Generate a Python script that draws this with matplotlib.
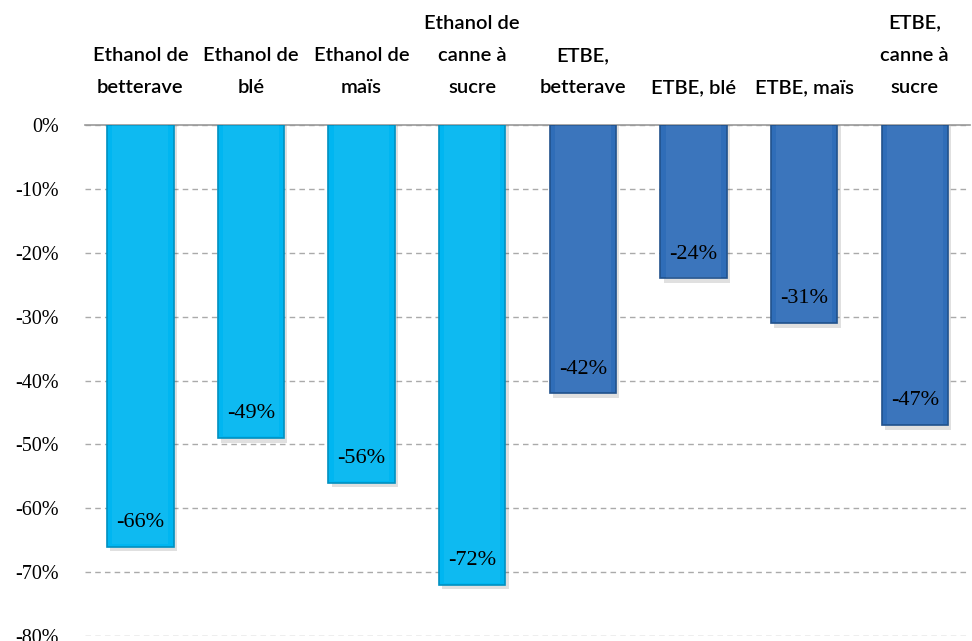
import matplotlib
matplotlib.use("Agg")
import matplotlib.pyplot as plt
from matplotlib.patches import Rectangle
import numpy as np

categories = ["Ethanol de\nbetterave", "Ethanol de\nblé", "Ethanol de\nmaïs",
              "Ethanol de\ncanne à\nsucre", "ETBE,\nbetterave", "ETBE, blé",
              "ETBE, maïs", "ETBE,\ncanne à\nsucre"]
values = [-66, -49, -56, -72, -42, -24, -31, -47]
groups = ["ethanol"] * 4 + ["etbe"] * 4

colors = {"ethanol": "#00B6F1", "etbe": "#2F6DB8"}
edges = {"ethanol": "#0090C0", "etbe": "#21528C"}

fig = plt.figure(figsize=(9.72, 6.41), dpi=100)
ax = fig.add_axes([0.0875, 0.0078, 0.9105, 0.797])

x = np.arange(len(categories))
width = 0.6

# shadows
for xi, v in zip(x, values):
    ax.add_patch(Rectangle((xi - width / 2 + 0.03, 0), width, v - 0.7,
                           facecolor="#000000", alpha=0.12, zorder=2, lw=0))

bars = ax.bar(x, values, width=width,
              color=[colors[g] for g in groups],
              edgecolor=[edges[g] for g in groups], linewidth=1.2, zorder=3)

# soft bevel highlight on each bar
for b, g in zip(bars, groups):
    x0 = b.get_x()
    w = b.get_width()
    h = b.get_height()
    ax.add_patch(Rectangle((x0 + w * 0.08, 0), w * 0.84, h * 0.995,
                           facecolor="white", alpha=0.06, lw=0, zorder=4))

for xi, v in zip(x, values):
    ax.text(xi, v + 3.8, f"{v}%", ha="center", va="center",
            fontsize=16, family="Liberation Serif", zorder=5)

for xi, c in zip(x, categories):
    ax.text(xi, 4.5, c, ha="center", va="bottom", fontsize=14.5,
            family="Lato", fontweight="semibold", linespacing=2.1,
            clip_on=False)

ax.set_xlim(-0.5, len(categories) - 0.5)
ax.set_ylim(-80, 0)
ax.set_yticks(np.arange(0, -81, -10))
ax.set_yticklabels([f"{t}%" for t in range(0, -81, -10)],
                   fontsize=14.5, family="Liberation Serif")
ax.tick_params(axis="y", length=0, pad=19)
ax.set_xticks([])
ax.yaxis.grid(True, linestyle=(0, (4, 3)), color="#AAAAAA", linewidth=1)
ax.set_axisbelow(True)
for s in ["left", "right", "bottom"]:
    ax.spines[s].set_visible(False)
ax.spines["top"].set_color("#999999")
ax.spines["top"].set_linewidth(1.2)

fig.savefig("out.png", dpi=100)
